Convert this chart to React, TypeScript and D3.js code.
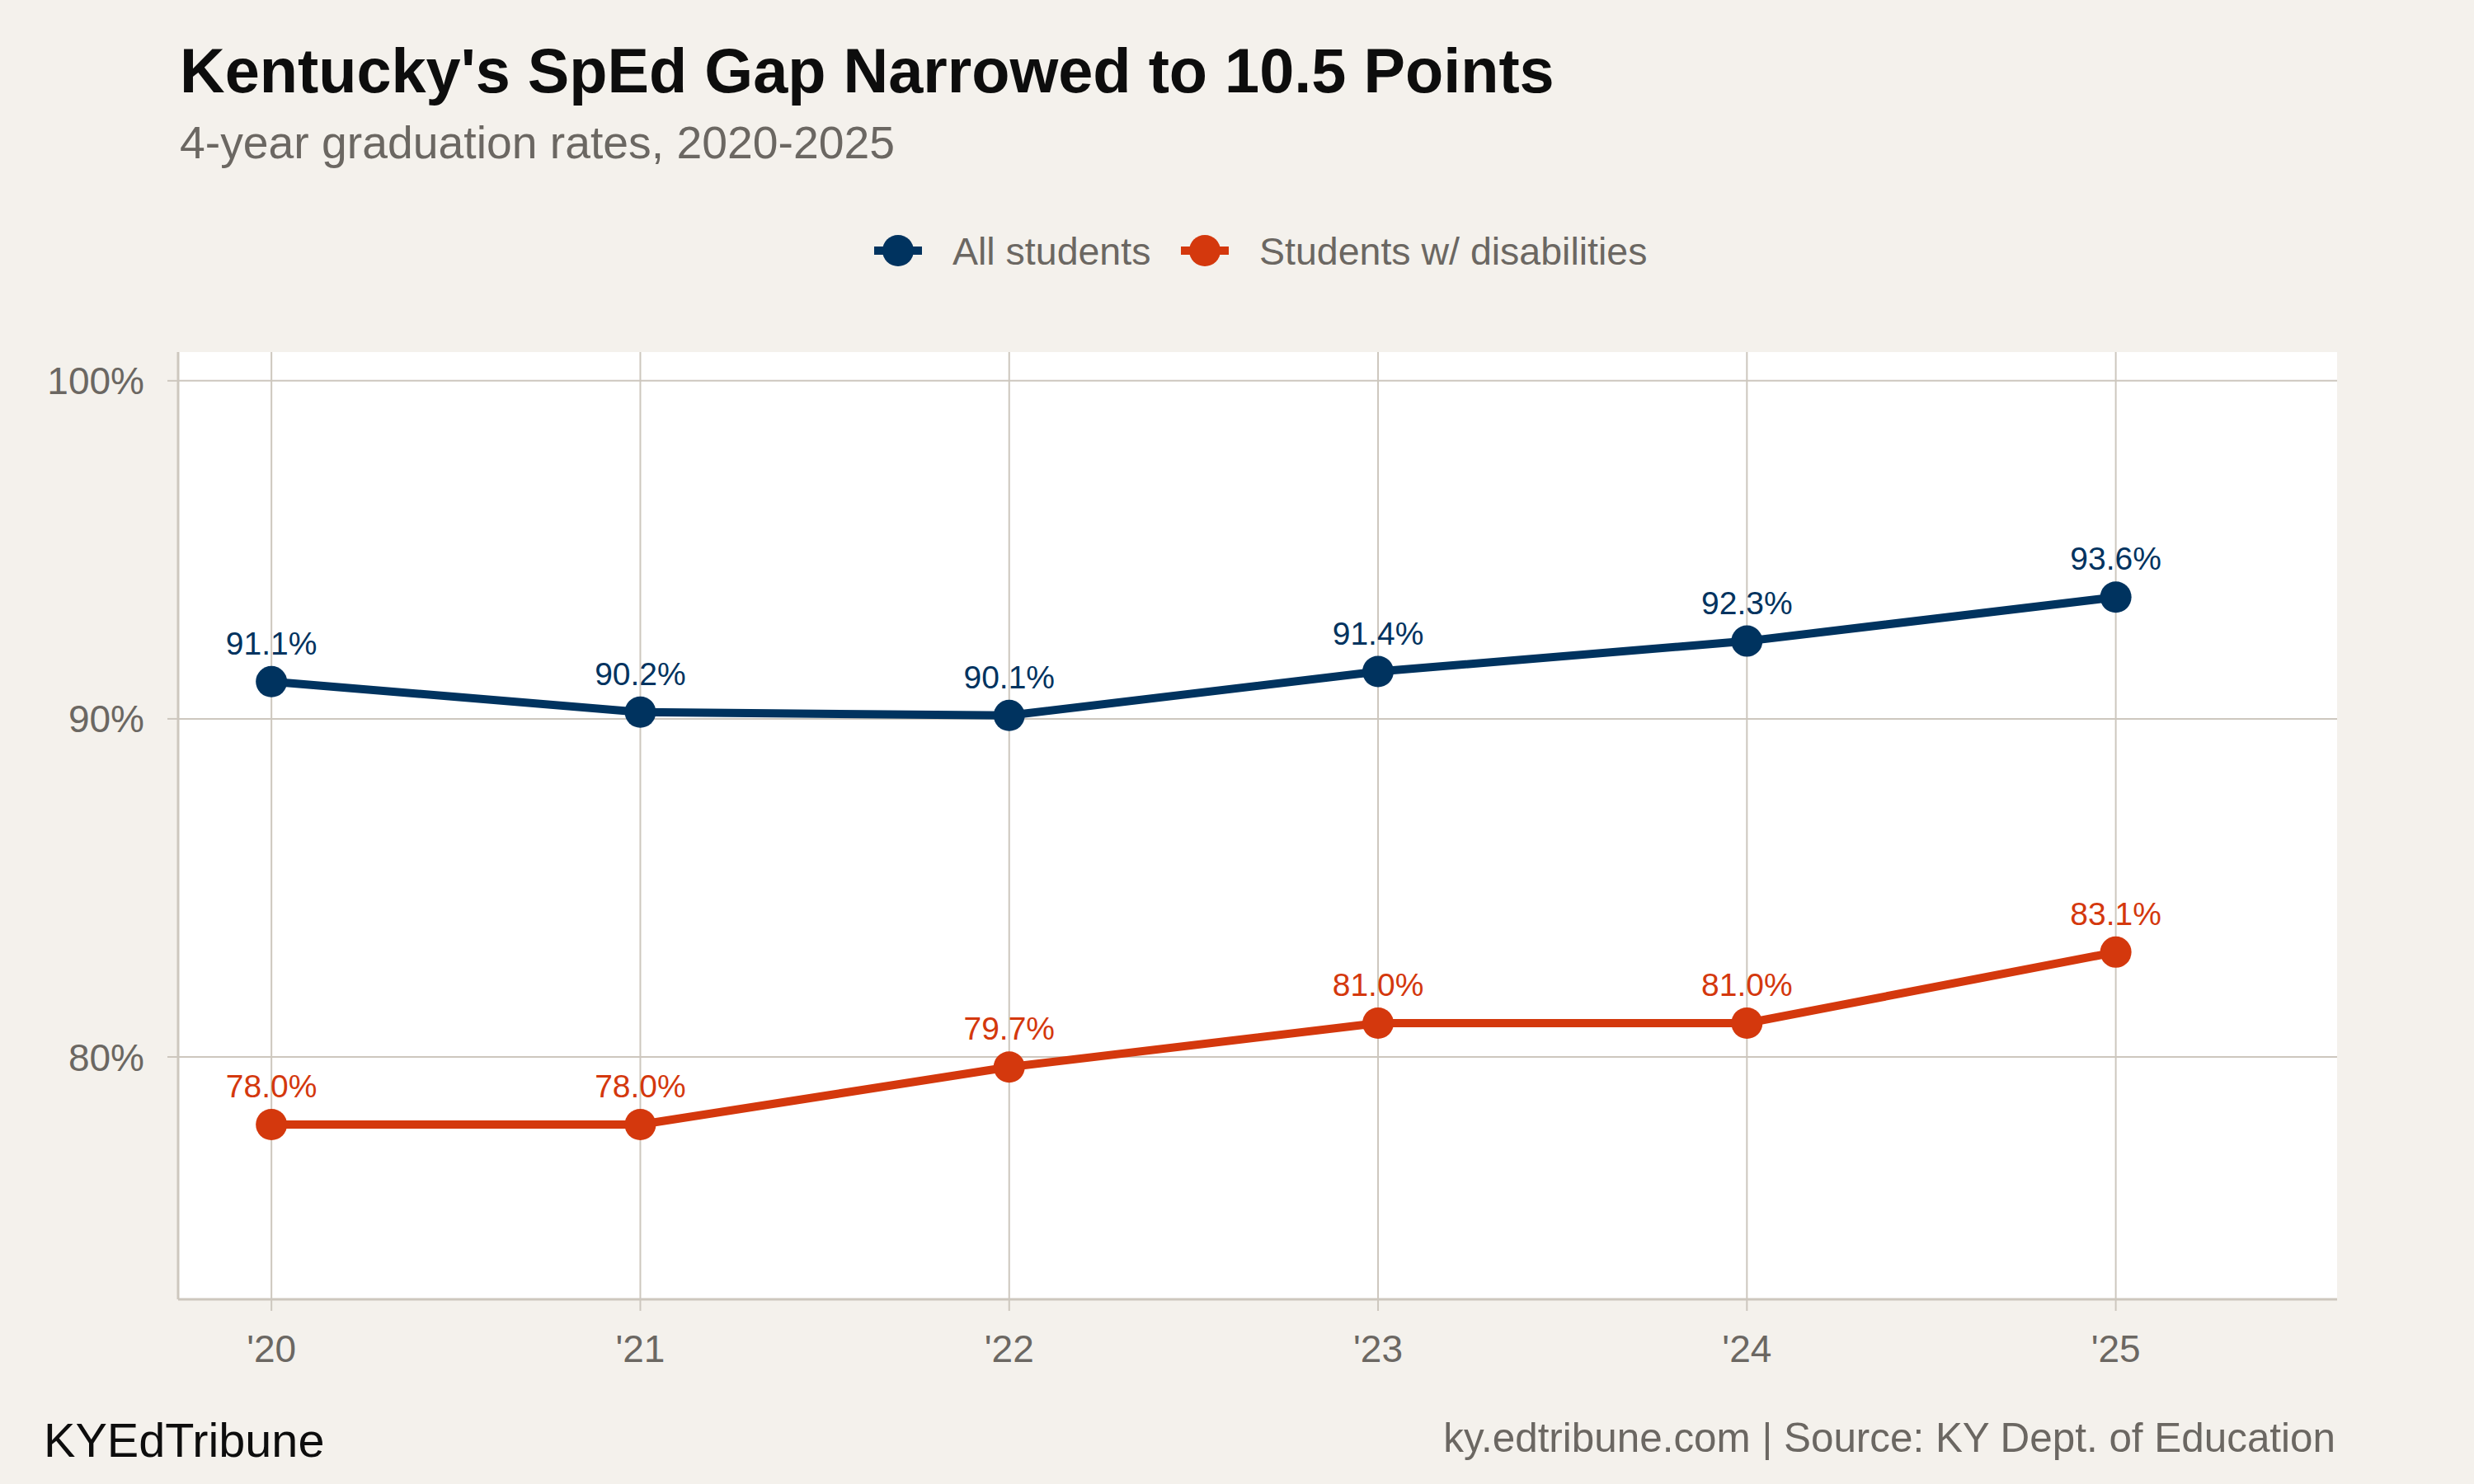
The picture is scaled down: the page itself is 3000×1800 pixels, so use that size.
import React from "react";
import * as d3 from "d3";

const years = [2020, 2021, 2022, 2023, 2024, 2025];
const yearLabels = ["'20", "'21", "'22", "'23", "'24", "'25"];
const allStudents = [91.1, 90.2, 90.1, 91.4, 92.3, 93.6];
const swd = [78.0, 78.0, 79.7, 81.0, 81.0, 83.1];
const yTicks = [80, 90, 100];
const seriesNames = ["All students", "Students w/ disabilities"];
const seriesColors = ["#00335f", "#d4380d"];

const W = 3000;
const H = 1800;
const FONT = "'Liberation Sans', Arial, Helvetica, sans-serif";
const GRID = "#cdc7be";
const GREY_TEXT = "#6b6762";

export default function App() {
  const left = 216, right = 2834, top = 427, bottom = 1576;
  const x = d3.scaleLinear().domain([2019.747, 2025.6]).range([left, right]);
  const y = d3.scaleLinear().domain([72.83, 100.85]).range([bottom, top]);
  const line = d3.line<number>().x((_, i) => x(years[i])).y((d) => y(d));
  const series = [allStudents, swd];

  return (
    <div style={{ position: "absolute", left: 0, top: 0 }}>
      <svg width={W} height={H} style={{ display: "block" }}>
        <rect x={0} y={0} width={W} height={H} fill="#f4f1ec" />
        <rect x={left} y={top} width={right - left} height={bottom - top} fill="#ffffff" />
        {/* gridlines */}
        {yTicks.map((t) => (
          <line key={"gy" + t} x1={left} x2={right} y1={y(t)} y2={y(t)} stroke={GRID} strokeWidth={2} />
        ))}
        {years.map((yr) => (
          <line key={"gx" + yr} x1={x(yr)} x2={x(yr)} y1={top} y2={bottom} stroke={GRID} strokeWidth={2} />
        ))}
        {/* axes */}
        <line x1={left} x2={left} y1={top} y2={bottom} stroke={GRID} strokeWidth={3} />
        <line x1={left} x2={right} y1={bottom} y2={bottom} stroke={GRID} strokeWidth={3} />
        {yTicks.map((t) => (
          <g key={"ty" + t}>
            <line x1={left - 13} x2={left} y1={y(t)} y2={y(t)} stroke={GRID} strokeWidth={2} />
            <text x={175} y={y(t)} dy="0.36em" textAnchor="end" fontFamily={FONT} fontSize={46} fill={GREY_TEXT}>
              {t}%
            </text>
          </g>
        ))}
        {years.map((yr, i) => (
          <g key={"tx" + yr}>
            <line x1={x(yr)} x2={x(yr)} y1={bottom} y2={bottom + 14} stroke={GRID} strokeWidth={2} />
            <text x={x(yr)} y={1652} textAnchor="middle" fontFamily={FONT} fontSize={46} fill={GREY_TEXT}>
              {yearLabels[i]}
            </text>
          </g>
        ))}
        {/* series */}
        {series.map((vals, si) => (
          <g key={"s" + si}>
            <path d={line(vals) || ""} fill="none" stroke={seriesColors[si]} strokeWidth={10} strokeLinejoin="round" />
            {vals.map((v, i) => (
              <circle key={i} cx={x(years[i])} cy={y(v)} r={19} fill={seriesColors[si]} />
            ))}
            {vals.map((v, i) => (
              <text key={"l" + i} x={x(years[i])} y={y(v) - 33} textAnchor="middle" fontFamily={FONT} fontSize={39} fill={seriesColors[si]}>
                {v.toFixed(1)}%
              </text>
            ))}
          </g>
        ))}
        {/* title */}
        <text x={218} y={112} fontFamily={FONT} fontWeight="bold" fontSize={75.7} fill="#0d0d0d">
          Kentucky's SpEd Gap Narrowed to 10.5 Points
        </text>
        <text x={218} y={192} fontFamily={FONT} fontSize={55.3} fill={GREY_TEXT}>
          4-year graduation rates, 2020-2025
        </text>
        {/* legend */}
        {[1089, 1461].map((cx, i) => (
          <g key={"lg" + i}>
            <line x1={cx - 29} x2={cx + 29} y1={304} y2={304} stroke={seriesColors[i]} strokeWidth={10} />
            <circle cx={cx} cy={304} r={19} fill={seriesColors[i]} />
            <text x={cx + 66} y={321} fontFamily={FONT} fontSize={46.5} fill={GREY_TEXT}>
              {seriesNames[i]}
            </text>
          </g>
        ))}
        {/* footer */}
        <text x={53} y={1767} fontFamily={FONT} fontSize={57.6} fill="#0d0d0d">
          KYEdTribune
        </text>
        <text x={2832} y={1761} textAnchor="end" fontFamily={FONT} fontSize={49.4} fill={GREY_TEXT}>
          ky.edtribune.com | Source: KY Dept. of Education
        </text>
      </svg>
    </div>
  );
}
